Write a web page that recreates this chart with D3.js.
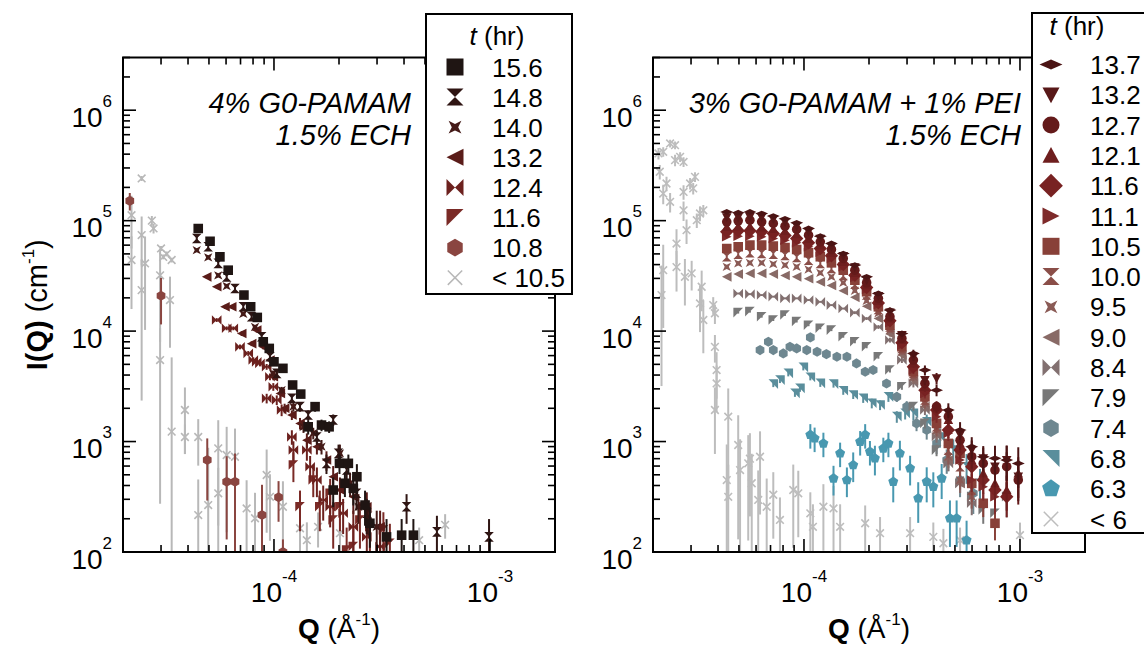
<!DOCTYPE html>
<html>
<head>
<meta charset="utf-8">
<script src="https://cdn.jsdelivr.net/npm/d3@7"></script>
<style>
  body { margin: 0; background: #fff; }
  svg text { font-family: "Liberation Sans", Arial, Helvetica, sans-serif; fill: #000; }
</style>
</head>
<body>
<svg id="chart" width="1144" height="648"></svg>
<script>
// ---------------- Left panel: 4% G0-PAMAM, 1.5% ECH ----------------
const leftLabels = ["15.6", "14.8", "14.0", "13.2", "12.4", "11.6", "10.8", "< 10.5"];
const leftColors = ["#1f1513", "#2f1513", "#441a17", "#5a1c19", "#6c211e", "#7a2a26", "#8a4540", "#b8b8b8"];
const leftShapes = ["square", "hourglass", "pinch", "triLeft", "bowtie", "wedgeTL", "hexagon", "cross"];

// each point: [Q (1/Å), I(Q) (1/cm), relative error]
const L156 = [[4.46e-5,8.5e4,.03],[5.06e-5,6.5e4,.03],[5.62e-5,4.7e4,.03],[6.14e-5,3.56e4,.03],[7.26e-5,2.12e4,.03],[7.80e-5,1.66e4,.04],[8.37e-5,1.33e4,.04],[8.92e-5,8.0e3,.05],[9.51e-5,6.97e3,.05],[1.0e-4,5.27e3,.06],[1.10e-4,4.6e3,.06],[1.22e-4,3.25e3,.08],[1.33e-4,2.69e3,.08],[1.44e-4,1.36e3,.15],[1.55e-4,2.07e3,.1],[1.66e-4,1.41e3,.12],[1.80e-4,1.36e3,.12],[1.88e-4,364,.3],[2.01e-4,635,.2],[2.13e-4,419,.25],[2.21e-4,635,.2],[2.33e-4,377,.3],[2.42e-4,480,.3],[2.64e-4,266,.35],[2.78e-4,182,.4],[3.32e-4,137,.45],[3.90e-4,142,.4],[4.42e-4,142,.4]];
const L148 = [[4.39e-5,6.9e4,.03],[4.96e-5,5.8e4,.03],[5.52e-5,4.1e4,.03],[6.04e-5,3.1e4,.03],[6.6e-5,2.43e4,.03],[7.21e-5,1.66e4,.04],[7.88e-5,1.35e4,.04],[8.77e-5,8.9e3,.05],[9.58e-5,5.85e3,.06],[1.03e-4,4.14e3,.07],[1.21e-4,2.46e3,.08],[1.32e-4,2.07e3,.1],[1.44e-4,1.74e3,.1],[1.58e-4,1.10e3,.15],[1.75e-4,635,.2],[1.88e-4,1.57e3,.12],[1.99e-4,782,.2],[2.17e-4,552,.25],[2.41e-4,340,.3],[2.69e-4,224,.35],[4.11e-4,257,.3],[5.68e-4,152,.4],[9.9e-4,137,.45]];
const L140 = [[4.39e-5,5.4e4,.03],[4.96e-5,4.65e4,.03],[5.52e-5,3.2e4,.03],[6.04e-5,2.55e4,.03],[7.21e-5,1.43e4,.04],[8.17e-5,1.09e4,.04],[9.9e-5,4.14e3,.06],[1.085e-4,2.92e3,.07],[1.23e-4,2.07e3,.1],[1.37e-4,1.36e3,.12],[1.52e-4,1.19e3,.12],[1.66e-4,898,.15],[2.02e-4,782,.2],[2.25e-4,419,.25],[2.46e-4,257,.3],[2.73e-4,216,.35],[2.99e-4,169,.4]];
const L132 = [[4.88e-5,3.1e4,.03],[5.43e-5,2.52e4,.03],[5.93e-5,1.66e4,.04],[6.37e-5,1.66e4,.04],[7.09e-5,9.5e3,.05],[7.88e-5,7.7e3,.05],[8.32e-5,1.02e4,.05],[8.92e-5,7.2e3,.05],[9.58e-5,5.47e3,.06],[9.93e-5,3.86e3,.07],[1.07e-4,2.73e3,.08],[1.12e-4,2.0e3,.1],[1.21e-4,1.74e3,.1],[1.32e-4,1.46e3,.12],[1.42e-4,1.03e3,.15],[1.58e-4,898,.15],[1.75e-4,680,.2],[1.88e-4,480,.25],[2.02e-4,364,.3],[2.33e-4,316,.3],[2.69e-4,257,.35],[3.1e-4,169,.4]];
const L124 = [[5.43e-5,1.26e4,.04],[6.04e-5,1.06e4,.04],[6.48e-5,1.06e4,.04],[6.96e-5,7.2e3,.05],[7.6e-5,6.28e3,.05],[8.02e-5,5.47e3,.06],[8.32e-5,5.27e3,.06],[8.61e-5,5.1e3,.06],[9.25e-5,4.75e3,.06],[9.25e-5,2.46e3,.1],[9.58e-5,3.86e3,.07],[9.93e-5,3.13e3,.08],[1.03e-4,2.38e3,.1],[1.085e-4,1.93e3,.12],[1.21e-4,1.10e3,.15],[1.23e-4,838,.2],[1.42e-4,838,.2],[1.47e-4,592,.25],[1.58e-4,448,.3],[1.69e-4,296,.35],[1.82e-4,257,.35],[2.09e-4,224,.35],[2.33e-4,169,.4],[2.69e-4,137,.45],[3.1e-4,112,.5]];
const L116 = [[1.23e-4,613,.3],[1.32e-4,257,.4],[1.52e-4,448,.3],[1.63e-4,257,.4],[1.82e-4,340,.35],[1.88e-4,195,.45],[2.02e-4,257,.4],[2.17e-4,104,.6],[2.33e-4,112,.6],[2.5e-4,195,.45],[2.78e-4,169,.45],[3.21e-4,158,.45],[3.44e-4,120,.5]];
const L108 = [[2.15e-5,1.51e5,.18],[3.0e-5,2.09e4,.45],[4.91e-5,680,.57],[6.04e-5,433,.7],[6.6e-5,433,.8],[8.8e-5,216,.88],[1.05e-4,313,.4],[1.10e-4,100,.3]];
const Lgray = [[2.19e-5,1.12e5,.5],[2.19e-5,4.4e4,.64],[2.44e-5,2.41e5,.05],[2.44e-5,7.4e4,.47],[2.44e-5,2.35e4,.9],[2.53e-5,4.1e4,.75],[2.72e-5,1.0e5,.1],[2.77e-5,8.5e4,.1],[2.97e-5,3.2e4,.75],[3.0e-5,5.6e4,.05],[3.07e-5,4.7e4,.05],[3.19e-5,5.0e4,.05],[3.36e-5,4.4e4,.05],[3.30e-5,1.91e4,.63],[2.97e-5,5.47e3,.95],[3.36e-5,1.23e3,3.7],[3.87e-5,1.93e3,.6],[3.87e-5,1.10e3,.3],[4.46e-5,1.10e3,.45],[4.46e-5,216,1.1],[4.96e-5,266,2.3],[5.52e-5,867,.8],[5.52e-5,340,.7],[6.04e-5,755,.8],[6.6e-5,728,.8],[7.47e-5,248,.8],[8.17e-5,202,.7],[9.25e-5,498,.7],[9.58e-5,316,.6],[1.10e-4,257,.7],[1.32e-4,164,.45],[1.42e-4,128,.45],[1.60e-4,169,.35],[2.02e-4,148,.35],[4.7e-4,128,.3],[6.2e-4,176,.25]];
const leftData = [L156, L148, L140, L132, L124, L116, L108, Lgray];

// ---------------- Right panel: 3% G0-PAMAM + 1% PEI, 1.5% ECH ----------------
const rightLabels = ["13.7", "13.2", "12.7", "12.1", "11.6", "11.1", "10.5", "10.0", "9.5", "9.0", "8.4", "7.9", "7.4", "6.8", "6.3", "< 6"];
const rightColors = ["#4b1414", "#581818", "#641a1a", "#6e1e1e", "#782222", "#7e2a2a", "#884038", "#8a4e48", "#8a5a55", "#886a66", "#827070", "#787878", "#6e8790", "#5a8e9c", "#4898b0", "#bdbdbd"];
const rightShapes = ["flatDiamond", "triDown", "circle", "triUp", "diamond", "triRight", "square", "hourglass", "pinch", "triLeft", "bowtie", "wedgeTL", "hexagon", "wedgeTR", "pentagon", "cross"];

// common Q grid of the later runs and the typical relative error at each Q
const qGrid = [4.39e-5,4.96e-5,5.62e-5,6.37e-5,7.21e-5,8.17e-5,9.25e-5,1.05e-4,1.19e-4,1.34e-4,1.52e-4,1.72e-4,1.95e-4,2.21e-4,2.50e-4,2.84e-4,3.21e-4,3.63e-4,4.11e-4,4.66e-4,5.28e-4,5.98e-4,6.76e-4,7.66e-4,8.68e-4,9.82e-4];
const gridRelErr = [.02,.02,.02,.02,.02,.02,.02,.02,.02,.02,.02,.03,.03,.04,.05,.06,.08,.1,.12,.15,.18,.22,.25,.3,.35,.4];
const I137 = [1.20e5,1.18e5,1.20e5,1.16e5,1.10e5,1.04e5,9.55e4,8.49e4,7.24e4,6.21e4,5.04e4,3.96e4,3.10e4,2.19e4,1.55e4,9.5e3,6.28e3,4.44e3,2.92e3,1.93e3,1.27e3,898,728,705,680,634];
const I132 = [1.07e5,1.07e5,1.08e5,1.07e5,1.03e5,9.69e4,8.91e4,7.93e4,6.85e4,5.80e4,4.77e4,3.77e4,2.89e4,2.07e4,1.47e4,9.2e3,5.86e3,3.6e3,3.73e3,1.80e3,1.15e3,837,705,592,680,481];
const I127 = [9.76e4,9.96e4,1.01e5,9.76e4,9.43e4,8.91e4,8.32e4,7.39e4,6.43e4,5.48e4,4.55e4,3.56e4,2.74e4,1.98e4,1.35e4,8.59e3,5.47e3,3.36e3,2.07e3,1.68e3,1.03e3,729,634,552,592,448];
const I121 = [8.79e4,8.91e4,8.91e4,8.67e4,8.43e4,8.09e4,7.55e4,6.85e4,6.00e4,5.12e4,4.24e4,3.37e4,2.59e4,1.88e4,1.30e4,8.30e3,5.10e3,3.13e3,2.00e3,1.57e3,962,680,515,418,364,515];
const I116 = [7.93e4,8.09e4,8.09e4,7.93e4,7.65e4,7.34e4,6.90e4,6.30e4,5.60e4,4.81e4,4.01e4,3.21e4,2.48e4,1.80e4,1.24e4,7.84e3,4.75e3,2.92e3,1.93e3,1.27e3,837,592,448,364,317];
const I111 = [7.14e4,7.24e4,7.24e4,7.14e4,6.90e4,6.66e4,6.30e4,5.80e4,5.19e4,4.55e4,3.82e4,3.06e4,2.38e4,1.73e4,1.19e4,7.46e3,4.44e3,2.73e3,1.68e3,1.19e3,680,448,390,317];
const I105 = [5.60e4,5.80e4,6.00e4,6.00e4,5.88e4,5.71e4,5.48e4,5.12e4,4.71e4,4.15e4,3.56e4,2.89e4,2.27e4,1.66e4,1.13e4,7.21e3,4.29e3,2.54e3,1.46e3,962,782,418,276,182];
const I100 = [4.71e4,4.98e4,5.12e4,5.04e4,4.98e4,4.84e4,4.64e4,4.39e4,4.10e4,3.69e4,3.19e4,2.66e4,2.12e4,1.57e4,1.09e4,6.97e3,4.14e3,2.38e3,1.36e3,837,592,364];
const I95  = [3.82e4,4.10e4,4.15e4,4.15e4,4.04e4,3.96e4,3.82e4,3.61e4,3.37e4,3.10e4,2.74e4,2.32e4,1.88e4,1.45e4,1.02e4,6.50e3,3.86e3,2.22e3,1.27e3,728,448,317];
const I90  = [3.10e4,3.28e4,3.33e4,3.33e4,3.28e4,3.19e4,3.10e4,2.98e4,2.79e4,2.59e4,2.32e4,2.02e4,1.68e4,1.30e4,9.40e3,6.07e3,3.60e3,2.07e3,1.19e3,680,418];
const I84  = [null,2.19e4,2.16e4,2.12e4,2.05e4,1.98e4,1.98e4,1.91e4,1.84e4,1.72e4,1.60e4,1.47e4,1.30e4,1.09e4,8.30e3,5.47e3,3.36e3,1.93e3,1.11e3,634,418,276];
const I79  = [null,1.47e4,1.50e4,1.35e4,1.26e4,1.40e4,1.22e4,1.13e4,1.06e4,1.02e4,8.89e3,8.00e3,7.21e3,5.86e3,4.44e3,3.13e3,2.07e3,1.46e3,837,634,418,317,240,224,317];
const R74 = [[6.26e-5,6.73e3,.05],[6.84e-5,8.00e3,.05],[7.21e-5,6.73e3,.05],[8.02e-5,6.28e3,.05],[8.61e-5,7.21e3,.05],[9.25e-5,6.97e3,.05],[1.03e-4,6.73e3,.05],[1.07e-4,8.77e3,.05],[1.15e-4,6.50e3,.05],[1.27e-4,6.19e3,.05],[1.42e-4,5.86e3,.05],[1.58e-4,5.86e3,.05],[1.75e-4,5.10e3,.06],[1.92e-4,4.29e3,.06],[2.09e-4,4.44e3,.07],[2.41e-4,3.36e3,.08],[2.69e-4,2.54e3,.1],[2.99e-4,2.07e3,.12],[3.32e-4,1.46e3,.15],[3.70e-4,1.27e3,.18],[4.11e-4,962,.2],[4.58e-4,680,.25],[5.28e-4,448,.3],[6.08e-4,340,.35]];
const R68 = [[7.21e-5,3.31e3,.06],[7.74e-5,3.60e3,.06],[8.46e-5,4.14e3,.06],[9.08e-5,2.73e3,.07],[9.58e-5,3.03e3,.07],[9.93e-5,4.69e3,.06],[1.07e-4,3.81e3,.06],[1.19e-4,3.36e3,.07],[1.37e-4,3.31e3,.07],[1.52e-4,2.88e3,.08],[1.69e-4,2.64e3,.08],[1.88e-4,2.46e3,.09],[2.06e-4,2.22e3,.1],[2.25e-4,2.14e3,.1],[2.46e-4,2.54e3,.1],[2.69e-4,1.68e3,.12],[2.94e-4,1.80e3,.12],[3.21e-4,1.80e3,.14],[3.70e-4,1.51e3,.16],[4.26e-4,1.10e3,.2],[4.91e-4,837,.25],[5.66e-4,592,.3],[6.53e-4,418,.35]];
const R63 = [[1.07e-4,1.15e3,.25],[1.12e-4,1.07e3,.25],[1.23e-4,962,.25],[1.37e-4,464,.3],[1.47e-4,782,.25],[1.58e-4,448,.3],[1.69e-4,613,.3],[1.82e-4,996,.25],[1.92e-4,1.15e3,.25],[2.02e-4,809,.25],[2.13e-4,705,.3],[2.33e-4,867,.25],[2.46e-4,962,.25],[2.59e-4,433,.35],[2.78e-4,782,.3],[3.10e-4,572,.3],[3.38e-4,306,.4],[3.70e-4,433,.35],[3.97e-4,390,.35],[4.34e-4,464,.35],[4.74e-4,202,.45],[5.09e-4,202,.45],[5.66e-4,128,.5]];
const Rgray = [[2.12e-5,4.06e5,.12],[2.23e-5,4.2e5,.1],[2.15e-5,2.77e5,.15],[2.40e-5,5.0e5,.08],[2.53e-5,4.82e5,.08],[2.53e-5,3.53e5,.12],[2.67e-5,3.78e5,.1],[2.77e-5,3.4e5,.1],[2.31e-5,2.17e5,.15],[2.40e-5,1.48e5,.2],[2.23e-5,1.76e5,.2],[2.77e-5,1.82e5,.15],[2.97e-5,2.17e5,.12],[3.13e-5,2.49e5,.1],[3.07e-5,1.96e5,.12],[3.30e-5,1.16e5,.15],[3.19e-5,1.01e5,.15],[3.42e-5,1.24e5,.12],[2.77e-5,1.24e5,.2],[2.86e-5,8.2e4,.25],[2.23e-5,3.56e4,.7],[2.19e-5,2.12e4,.85],[2.57e-5,6.2e4,.35],[2.57e-5,3.8e4,.4],[2.81e-5,3.1e4,.45],[3.02e-5,3.33e4,.3],[3.36e-5,2.52e4,.4],[3.30e-5,1.78e4,.45],[3.42e-5,1.26e4,.5],[3.80e-5,1.72e4,.18],[3.87e-5,1.45e4,.2],[3.87e-5,7.2e3,.28],[3.94e-5,4.44e3,.45],[3.94e-5,3.36e3,.45],[3.87e-5,1.93e3,.6],[4.46e-5,1.68e3,.8],[4.39e-5,448,1.1],[4.46e-5,316,.95],[4.96e-5,930,.86],[5.06e-5,552,.9],[5.52e-5,635,.8],[5.62e-5,700,.7],[5.73e-5,419,.85],[6.26e-5,728,.7],[6.14e-5,296,.85],[6.72e-5,257,.8],[7.21e-5,330,.6],[7.74e-5,195,.6],[8.92e-5,364,.7],[9.41e-5,340,.6],[1.07e-4,224,.55],[1.10e-4,169,.6],[1.23e-4,257,.6],[1.37e-4,248,.6],[1.47e-4,169,.6],[1.92e-4,182,.45],[2.25e-4,148,.4],[3.10e-4,148,.4],[3.97e-4,137,.35],[4.42e-4,120,.35],[5.28e-4,128,.3],[1.0e-3,142,.3]];

const onGrid = vals => vals.map((v, i) => [qGrid[i], v, gridRelErr[i]]).filter(d => d[1] != null);
const rightData = [I137, I132, I127, I121, I116, I111, I105, I100, I95, I90, I84, I79].map(onGrid)
  .concat([R74, R68, R63, Rgray]);

// ---------------- axis ranges and tick labels ----------------
const qDomain = [2e-5, 2e-3];
const iDomain = [1e2, 3e6];
const yTickValues = [1e2, 1e3, 1e4, 1e5, 1e6];
const xTickValues = [1e-4, 1e-3];

// ---------------- marker shapes (d3 symbol types) ----------------
function poly(pts) {
  return { draw(ctx, size) {
    const r = Math.sqrt(size) / 2;
    pts.forEach(([a, b], i) => i ? ctx.lineTo(a * r, b * r) : ctx.moveTo(a * r, b * r));
    ctx.closePath();
  } };
}
function ngon(n, k) {
  const pts = [];
  for (let i = 0; i < n; i++) {
    const a = -Math.PI / 2 + i * 2 * Math.PI / n;
    pts.push([k * Math.cos(a), k * Math.sin(a)]);
  }
  return poly(pts);
}
const symbolTypes = {
  square: poly([[-1,-1],[1,-1],[1,1],[-1,1]]),
  hourglass: poly([[-1,-1],[1,-1],[-1,1],[1,1]]),
  bowtie: poly([[-1,-1],[-1,1],[1,-1],[1,1]]),
  pinch: poly([[-0.8,-0.8],[0,-0.4],[0.8,-0.8],[0.4,0],[0.8,0.8],[0,0.4],[-0.8,0.8],[-0.4,0]]),
  triLeft: poly([[1,-1],[1,1],[-1,0]]),
  triRight: poly([[-1,-1],[-1,1],[1,0]]),
  triDown: poly([[-1,-0.85],[1,-0.85],[0,1]]),
  triUp: poly([[0,-1],[1,0.85],[-1,0.85]]),
  wedgeTL: poly([[-1,-1],[1,-1],[-1,1]]),
  wedgeTR: poly([[-1,-1],[1,-1],[1,1]]),
  diamond: poly([[0,-1.4],[1.4,0],[0,1.4],[-1.4,0]]),
  flatDiamond: poly([[-1.35,0],[0,-0.6],[1.35,0],[0,0.6]]),
  hexagon: ngon(6, 1.05),
  pentagon: ngon(5, 1.1),
  circle: { draw(ctx, size) { const r = Math.sqrt(size) / 2; ctx.moveTo(r, 0); ctx.arc(0, 0, r, 0, 2 * Math.PI); } },
  cross: { draw(ctx, size) { const r = Math.sqrt(size) / 2 * 0.8;
    ctx.moveTo(-r, -r); ctx.lineTo(r, r); ctx.moveTo(r, -r); ctx.lineTo(-r, r); } }
};
const symbolPath = (shape, r) => d3.symbol().type(symbolTypes[shape]).size((2 * r) * (2 * r))();

// ---------------- layout ----------------
const svg = d3.select("#chart");
const PW = 432, TOP = 57.5, BOT = 552;
const panels = [
  { x0: 123, data: leftData, labels: leftLabels, colors: leftColors, shapes: leftShapes,
    notes: ["4% G0-PAMAM", "1.5% ECH"], noteX: 411,
    legend: { x: 426, y: 14, w: 146, h: 280, titleX: 497, titleY: 45, row0: 67, dy: 30.1, symX: 455, txtX: 492 } },
  { x0: 653, data: rightData, labels: rightLabels, colors: rightColors, shapes: rightShapes,
    notes: ["3% G0-PAMAM + 1% PEI", "1.5% ECH"], noteX: 1021,
    legend: { x: 1032, y: 13, w: 130, h: 520, titleX: 1077, titleY: 35, row0: 64.5, dy: 30.3, symX: 1051, txtX: 1090 } }
];

panels.forEach((p, pi) => {
  const x = d3.scaleLog().domain(qDomain).range([p.x0, p.x0 + PW]);
  const y = d3.scaleLog().domain(iDomain).range([BOT, TOP]);
  const g = svg.append("g");

  const clipId = "clip" + pi;
  svg.append("clipPath").attr("id", clipId)
    .append("rect").attr("x", p.x0).attr("y", TOP).attr("width", PW).attr("height", BOT - TOP);
  const plot = g.append("g").attr("clip-path", `url(#${clipId})`);

  // draw the earliest runs first so later ones sit on top
  const order = d3.range(p.data.length).reverse();
  order.forEach(si => {
    const color = p.colors[si], shape = p.shapes[si];
    const s = plot.append("g");
    s.selectAll("line").data(p.data[si]).join("line")
      .attr("x1", d => x(d[0])).attr("x2", d => x(d[0]))
      .attr("y1", d => y(d[1] * (1 + d[2])))
      .attr("y2", d => { const lo = d[1] * (1 - d[2]); return lo > iDomain[0] * 0.5 ? y(lo) : BOT + 5; })
      .attr("stroke", color).attr("stroke-width", 2);
    s.selectAll("path").data(p.data[si]).join("path")
      .attr("transform", d => `translate(${x(d[0])},${y(d[1])})`)
      .attr("d", symbolPath(shape, shape === "pinch" ? 5.2 : 4.8))
      .attr("fill", shape === "cross" ? "none" : color)
      .attr("stroke", shape === "cross" ? color : "none")
      .attr("stroke-width", 1.6);
  });

  // frame and inward ticks on all four sides
  g.append("rect").attr("x", p.x0).attr("y", TOP).attr("width", PW).attr("height", BOT - TOP)
    .attr("fill", "none").attr("stroke", "#000").attr("stroke-width", 2);
  const isMajor = v => Math.abs(Math.log10(v) - Math.round(Math.log10(v))) < 1e-6;
  const xt = x.ticks(), yt = y.ticks();
  const tk = g.append("g").attr("stroke", "#000").attr("stroke-width", 1.6);
  xt.forEach(v => {
    const L = isMajor(v) ? 13 : 7, xx = x(v);
    tk.append("line").attr("x1", xx).attr("x2", xx).attr("y1", BOT).attr("y2", BOT - L);
    tk.append("line").attr("x1", xx).attr("x2", xx).attr("y1", TOP).attr("y2", TOP + L);
  });
  yt.forEach(v => {
    const L = isMajor(v) ? 13 : 7, yy = y(v);
    tk.append("line").attr("x1", p.x0).attr("x2", p.x0 + L).attr("y1", yy).attr("y2", yy);
    tk.append("line").attr("x1", p.x0 + PW).attr("x2", p.x0 + PW - L).attr("y1", yy).attr("y2", yy);
  });

  // tick labels
  g.selectAll(".ylab").data(yTickValues).join("text").attr("class", "ylab")
    .attr("x", p.x0 - 11).attr("y", d => y(d) + 16.5).attr("text-anchor", "end")
    .style("font-size", "28px")
    .each(function (d) {
      const t = d3.select(this);
      t.append("tspan").text("10");
      t.append("tspan").attr("dy", -20).style("font-size", "17px").text(Math.round(Math.log10(d)));
    });
  g.selectAll(".xlab").data(xTickValues).join("text").attr("class", "xlab")
    .attr("x", d => x(d)).attr("y", 602).attr("text-anchor", "middle")
    .style("font-size", "28px")
    .each(function (d) {
      const t = d3.select(this);
      t.append("tspan").text("10");
      t.append("tspan").attr("dy", -20).style("font-size", "17px").text("-" + Math.abs(Math.round(Math.log10(d))));
    });

  // axis titles
  const xt2 = g.append("text").attr("x", p.x0 + PW / 2).attr("y", 638).attr("text-anchor", "middle").style("font-size", "28px");
  xt2.append("tspan").style("font-weight", "bold").text("Q");
  xt2.append("tspan").text(" (Å");
  xt2.append("tspan").attr("dy", -13).style("font-size", "17px").text("-1");
  xt2.append("tspan").attr("dy", 13).text(")");
  if (pi === 0) {
    const yt2 = g.append("text").attr("transform", `translate(47,${(TOP + BOT) / 2}) rotate(-90)`)
      .attr("text-anchor", "middle").style("font-size", "29px");
    yt2.append("tspan").style("font-weight", "bold").text("I(Q)");
    yt2.append("tspan").text(" (cm");
    yt2.append("tspan").attr("dy", -13).style("font-size", "17px").text("-1");
    yt2.append("tspan").attr("dy", 13).text(")");
  }

  // sample description
  p.notes.forEach((n, i) => {
    g.append("text").attr("x", p.noteX).attr("y", 113 + i * 32).attr("text-anchor", "end")
      .style("font-size", "29px").style("font-style", "italic").text(n);
  });

  // legend
  const L = p.legend;
  const lg = g.append("g");
  lg.append("rect").attr("x", L.x).attr("y", L.y).attr("width", L.w).attr("height", L.h)
    .attr("fill", "#fff").attr("stroke", "#000").attr("stroke-width", 2);
  const tt = lg.append("text").attr("x", L.titleX).attr("y", L.titleY).attr("text-anchor", "middle").style("font-size", "26px");
  tt.append("tspan").style("font-style", "italic").text("t");
  tt.append("tspan").text(" (hr)");
  p.labels.forEach((lab, i) => {
    const cy = L.row0 + i * L.dy, shape = p.shapes[i], color = p.colors[i];
    lg.append("path").attr("transform", `translate(${L.symX},${cy})`)
      .attr("d", symbolPath(shape, shape === "pinch" ? 8 : (shape === "cross" ? 9 : 8.5)))
      .attr("fill", shape === "cross" ? "none" : color)
      .attr("stroke", shape === "cross" ? color : "none").attr("stroke-width", 1.5);
    lg.append("text").attr("x", L.txtX).attr("y", cy + 9.5).style("font-size", "26px").text(lab);
  });
});
</script>
</body>
</html>
